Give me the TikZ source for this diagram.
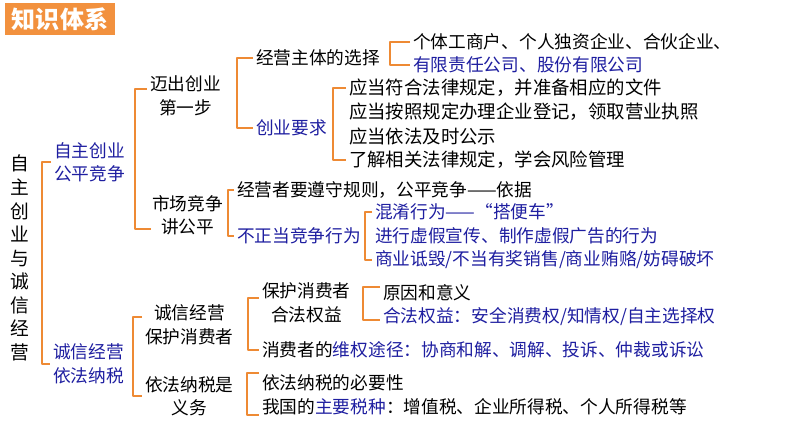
\documentclass[tikz,border=0pt]{standalone}
\usepackage{fontspec}
\setmainfont{Noto Sans CJK SC}
\usepackage{tikz}
\usetikzlibrary{calc}
\definecolor{brkorange}{RGB}{238,138,52}
\definecolor{boxorange}{RGB}{242,145,62}
\definecolor{keyblue}{RGB}{30,30,160}
\newcommand{\kb}[1]{\textcolor{keyblue}{#1}}
\newcommand{\fw}[1]{{\addfontfeature{CharacterWidth=Full}#1}}

\begin{document}
\begin{tikzpicture}[x=0.03cm,y=-0.03cm,
  txt/.style={anchor=west,inner sep=2.5pt,font=\fontsize{15.1}{20}\selectfont,align=left},
  mid/.style={txt,align=center},
  key/.style={txt,text=keyblue},
  wide/.style={txt,font=\fontsize{15.7}{20}\selectfont},
  brk/.style={draw=brkorange,line width=2.4pt,line join=round}]
\useasboundingbox (0,0) rectangle (794,447);
\node[fill=boxorange,text=white,minimum width=3.3cm,minimum height=0.96cm,inner sep=0pt,
  font=\fontsize{20.5}{20.5}\selectfont\bfseries] (title) at (60,19) {知识体系};
\node[font=\fontsize{16}{20.1}\selectfont,align=center,inner sep=1pt] (root) at (20,258)
  {自\\主\\创\\业\\与\\诚\\信\\经\\营};
\node[key,align=left] (a1) at (51,162) {自主创业\\公平竞争};
\node[key,align=left] (a2) at (50,364) {诚信经营\\依法纳税};
\node[mid] (b1) at (147,96) {迈出创业\\第一步};
\node[mid] (b2) at (149,215) {市场竞争\\讲公平};
\node[mid] (b3) at (142,325) {诚信经营\\保护消费者};
\node[mid] (b4) at (142,396) {依法纳税是\\义务};
\node[txt] (c1) at (253,58) {经营主体的选择};
\node[key] (c2) at (253,128) {创业要求};
\node[txt] (c3) at (234,190) {经营者要遵守规则，公平竞争——依据};
\node[key] (c4) at (234,236) {不正当竞争行为};
\node[mid] (c5) at (259,303) {保护消费者\\合法权益};
\node[txt] (c6) at (259,350) {消费者的\kb{维权途径：协商和解、调解、投诉、仲裁或诉讼}};
\node[txt] (c7) at (259,383) {依法纳税的必要性};
\node[txt] (c8) at (259,407) {我国的\kb{主要税种}：增值税、企业所得税、个人所得税等};
\node[txt] (d1) at (410,42) {个体工商户、个人独资企业、合伙企业、};
\node[key] (d2) at (410,65) {有限责任公司、股份有限公司};
\node[wide] (e1) at (346,88) {应当符合法律规定，并准备相应的文件};
\node[wide] (e2) at (346,112) {应当按照规定办理企业登记，领取营业执照};
\node[wide] (e3) at (346,136) {应当依法及时公示};
\node[wide] (e4) at (346,160) {了解相关法律规定，学会风险管理};
\node[key] (f1) at (372,212) {混淆行为——\fw{“}搭便车\fw{”}};
\node[key] (f2) at (372,236) {进行虚假宣传、制作虚假广告的行为};
\node[key] (f3) at (372,260) {商业诋毁/不当有奖销售/商业贿赂/妨碍破坏};
\node[txt] (g1) at (380,293) {原因和意义};
\node[key] (g2) at (380,317) {合法权益：\kb{安全消费权/知情权/自主选择权}};
\draw[brk] (a1.west) -- ++(-9,0) |- (a2.west);
\draw[brk] ($(b1.west)+(0,-7)$) -- ++(-12,0) |- ($(b2.west)+(2,14)$);
\draw[brk] (c1.west) -- ++(-16,0) |- (c2.west);
\draw[brk] (d1.west) -- ++(-20,0) |- (d2.west);
\draw[brk] (e1.west) -- ++(-13,0) |- (e4.west);
\draw[brk] (c3.west) -- ++(-6,0) |- (c4.west);
\draw[brk] (f1.west) -- ++(-7,0) |- (f3.west);
\draw[brk] ($(b3.west)+(0,-8)$) -- ++(-9,0) |- (b4.west);
\draw[brk] ($(c5.west)+(0,-5)$) -- ++(-11,0) |- (c6.west);
\draw[brk] ($(g1.west)+(0,-6)$) -- ++(-17,0) |- ($(g2.west)+(0,3)$);
\draw[brk] ($(c7.west)+(0,-10)$) -- ++(-12,0) |- ($(c8.west)+(0,8)$);
\end{tikzpicture}
\end{document}
